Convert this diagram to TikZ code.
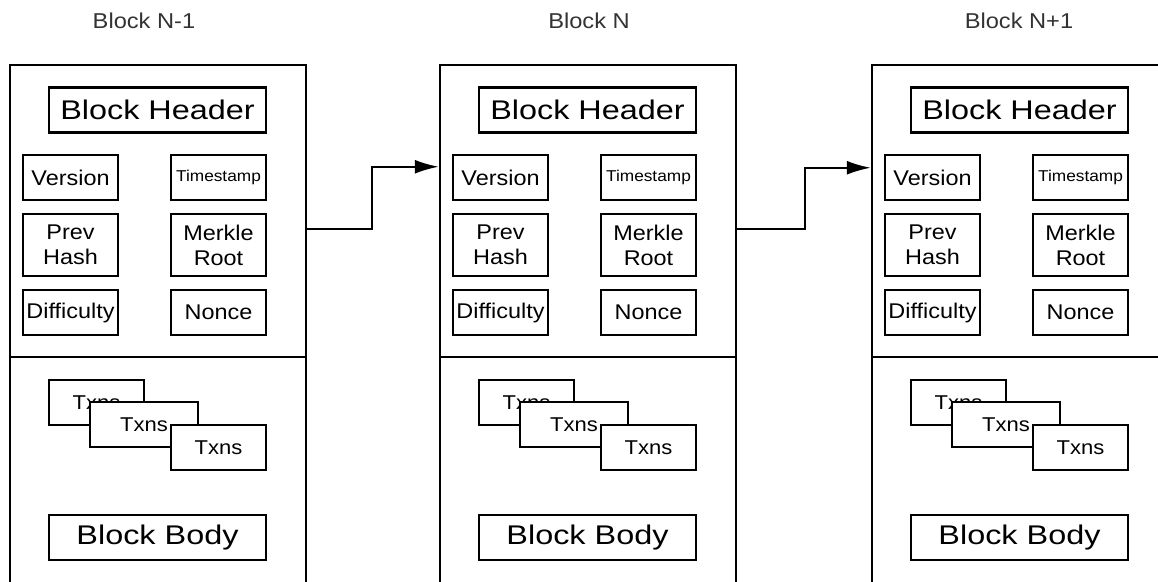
\documentclass[tikz,border=0pt]{standalone}
\usepackage{fontspec}
\setmainfont{Liberation Sans}[FakeStretch=1.1]
\newfontfamily\widefont{Liberation Sans}[FakeStretch=1.2]
\usetikzlibrary{arrows.meta}

\begin{document}
\begin{tikzpicture}[x=1pt, y=-1pt, >={Latex[length=24pt, width=14pt]},
	frame/.style={draw, line width=2.5pt},
	field/.style={draw, fill=white, line width=2.2pt, inner sep=0pt, minimum width=95pt, minimum height=45pt, font=\fontsize{21.3}{25}\selectfont, align=center},
	wide/.style={field, minimum width=217pt, font=\widefont\fontsize{27}{32}\selectfont},
	txn/.style={field, font=\fontsize{20}{24}\selectfont},
	link/.style={->, line width=2pt}]
	\useasboundingbox[fill=white] (0,0) rectangle (1158,581);
	\clip (0,0) rectangle (1158,581);
	\foreach \i/\L/\tx/\lbl in {1/10/144/Block N-1, 2/440/589/Block N, 3/872/1019/Block N+1} {
		\node[font=\fontsize{21.5}{24}\selectfont, text=black!80] (title\i) at (\tx,21) {\lbl};
		\node[frame, minimum width=296pt, minimum height=535pt, inner sep=0pt] (blk\i) at (\L+148,332.5) {};
		\draw[frame] (\L,357) -- (\L+296,357);
		\node[wide] (hdr\i) at (\L+147.5,110) {Block Header};
		\node[field] (ver\i) at (\L+60.5,177.5) {Version};
		\node[field, font=\fontsize{15.7}{18}\selectfont] (ts\i) at (\L+208.5,177.5) {Timestamp};
		\node[field, minimum height=62pt] (prev\i) at (\L+60.5,245) {Prev\\Hash};
		\node[field, minimum height=62pt] (mrk\i) at (\L+208.5,245) {Merkle\\Root};
		\node[field] (dif\i) at (\L+60.5,312.5) {Difficulty};
		\node[field] (non\i) at (\L+208.5,312.5) {Nonce};
		\node[txn] (txa\i) at (\L+86.5,402.5) {Txns};
		\node[txn, minimum width=108pt] (txb\i) at (\L+134,424.5) {Txns};
		\node[txn] (txc\i) at (\L+208.5,447.5) {Txns};
		\node[wide] (body\i) at (\L+147.5,537.5) {Block Body};
	}
	\draw[link] ([yshift=-165pt]blk1.north east) -| ([xshift=-67pt, yshift=-103pt]blk2.north west) -- ([yshift=-103pt]blk2.north west);
	\draw[link] ([yshift=-165pt]blk2.north east) -| ([xshift=-66pt, yshift=-104pt]blk3.north west) -- ([yshift=-104pt]blk3.north west);
\end{tikzpicture}
\end{document}
